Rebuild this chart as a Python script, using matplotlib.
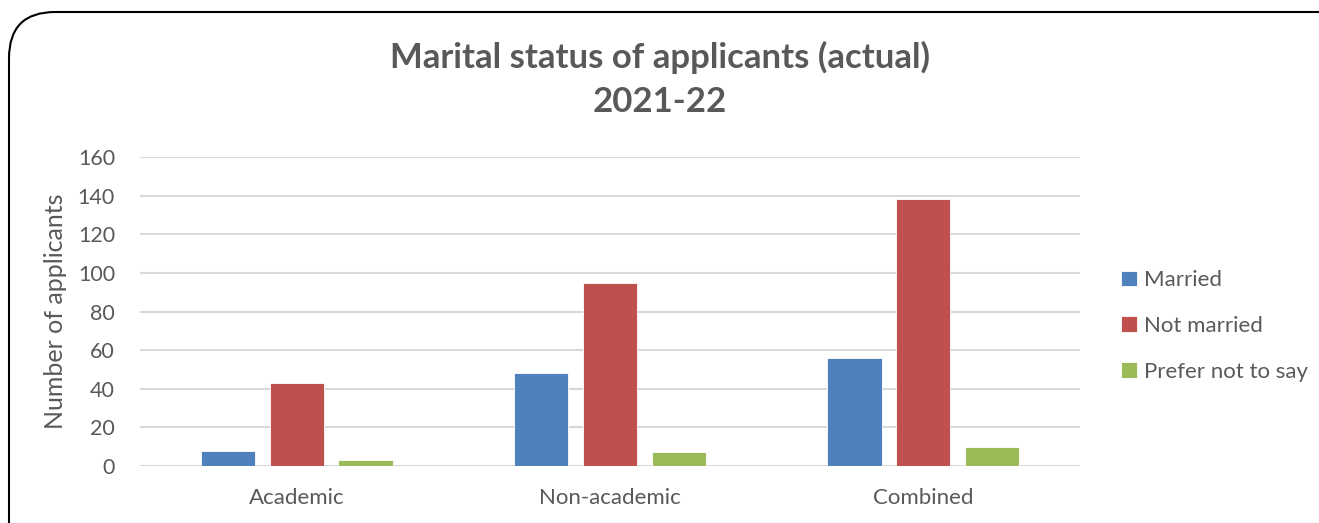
import numpy as np
import matplotlib.pyplot as plt
from matplotlib.patches import FancyBboxPatch

# data
categories = ['Academic', 'Non-academic', 'Combined']
married = [8, 48, 56]
not_married = [43, 95, 138]
prefer_not = [3, 7, 10]
series_names = ['Married', 'Not married', 'Prefer not to say']
colors = ['#4F81BD', '#C0504D', '#9BBB59']

plt.rcParams['font.family'] = ['Lato', 'DejaVu Sans']
text_col = '#595959'

fig = plt.figure(figsize=(13.19, 5.23), dpi=100)
ax = fig.add_axes([140 / 1319, 1 - 466 / 523, 940 / 1319, 309 / 523])

x = np.arange(len(categories))
width = 0.173
offset = 0.22
for i, (vals, name, c) in enumerate(zip([married, not_married, prefer_not], series_names, colors)):
    ax.bar(x + (i - 1) * offset, vals, width, color=c, label=name,
           edgecolor='white', linewidth=0.6, zorder=3)

ax.set_xlim(-0.5, 2.5)
ax.set_ylim(0, 160)
ax.set_yticks(np.arange(0, 161, 20))
ax.set_xticks(x)
ax.set_xticklabels(categories, fontsize=16)
ax.grid(axis='y', color='#D9D9D9', linewidth=1.5, zorder=0)
ax.tick_params(axis='both', length=0, colors=text_col)
ax.tick_params(axis='y', pad=18, labelsize=15.5)
ax.tick_params(axis='x', pad=16)
for s in ax.spines.values():
    s.set_visible(False)
ax.set_ylabel('Number of applicants', fontsize=18, color=text_col, labelpad=8)

fig.text(0.5, 1 - 57 / 523, 'Marital status of applicants (actual)', ha='center', va='center',
         fontsize=25, fontweight='bold', color=text_col)
fig.text(0.5, 1 - 102 / 523, '2021-22', ha='center', va='center',
         fontsize=25, fontweight='bold', color=text_col)

leg = ax.legend(loc='center left', bbox_to_anchor=(1101 / 1319, 1 - 326 / 523),
                bbox_transform=fig.transFigure, frameon=False, fontsize=16,
                handlelength=0.7, handleheight=0.7, handletextpad=0.35,
                labelspacing=1.15, labelcolor=text_col)

# rounded chart border (cut off at right and bottom like the screenshot)
border = FancyBboxPatch((9 / 1319, -0.1), 1.2, 1 - 12 / 523 + 0.1,
                        boxstyle='round,pad=0,rounding_size=0.035',
                        transform=fig.transFigure, fill=False,
                        edgecolor='black', linewidth=1.5, mutation_aspect=1319 / 523)
fig.patches.append(border)

fig.savefig('out.png', dpi=100)
